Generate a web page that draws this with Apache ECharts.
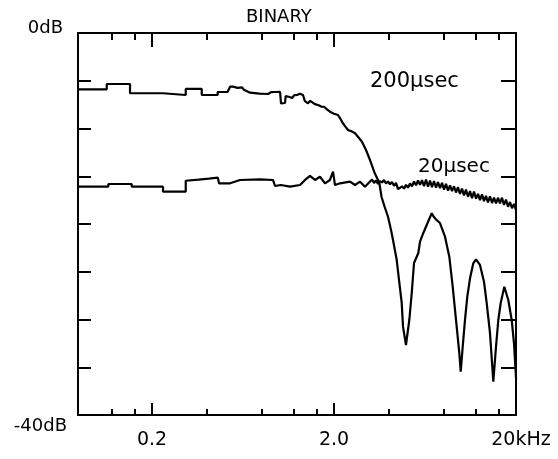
<!DOCTYPE html>
<html><head><meta charset="utf-8">
<script src="https://cdn.jsdelivr.net/npm/echarts@6/dist/echarts.min.js"></script>
<style>html,body{margin:0;padding:0;background:#fff}#c{width:558px;height:459px}</style>
</head><body><div id="c"></div>
<script>
// ---- data (frequency in kHz, level in dB) ----
const chartTitle = 'BINARY';
const freqMin = 0.0784, freqMax = 20;
const majorTicks = [0.2, 2, 20];
const majorTickLabels = ['0.2', '2.0', '20kHz'];
const minorTicks = [0.12, 0.16, 0.4, 0.8, 1.2, 1.6, 4, 8, 12, 16];
const dbMin = -40, dbMax = 0, dbStep = 5;
const dbTopLabel = '0dB', dbBottomLabel = '-40dB';
const seriesNames = ['200µsec', '20µsec'];

const freq200 = [0.0784,0.1128,0.1128,0.1514,0.1514,0.2298,0.2298,0.3064,0.3064,0.3752,0.3752,0.459,0.459,0.52,0.537,0.557,0.59,0.625,0.64,0.691,0.78,0.868,0.90,0.948,1.01,1.023,1.076,1.085,1.104,1.14,1.176,1.21,1.252,1.30,1.351,1.38,1.439,1.48,1.514,1.57,1.634,1.70,1.763,1.83,1.901,2.0,2.104,2.17,2.242,2.31,2.388,2.50,2.61,2.73,2.85,2.998,3.154,3.346,3.55,3.65,3.798,3.96,4.114,4.22,4.422,4.552,4.71,4.788,4.972,5.186,5.346,5.504,5.812,5.938,6.192,6.462,6.884,7.10,7.334,7.646,8.146,8.602,8.98,9.362,9.762,9.938,10.19,10.49,10.80,11.18,11.65,12.06,12.68,13.34,13.80,14.39,15.01,15.53,15.99,16.48,17.25,18.14,18.94,19.50,20];
const db200 = [-5.9,-5.9,-5.34,-5.34,-6.31,-6.31,-6.49,-6.49,-5.86,-5.86,-6.49,-6.49,-6.18,-6.18,-5.62,-5.62,-5.75,-5.69,-5.95,-6.25,-6.35,-6.39,-6.2,-6.18,-6.15,-7.36,-7.33,-6.6,-6.49,-6.7,-6.81,-6.5,-6.49,-6.35,-6.49,-7.1,-7.36,-7.1,-7.30,-7.45,-7.54,-7.7,-7.72,-8.0,-8.24,-8.45,-8.59,-9.0,-9.46,-9.8,-10.16,-10.3,-10.5,-10.95,-11.38,-12.25,-13.3,-14.66,-15.71,-17.17,-18.22,-19.24,-20.63,-21.68,-23.77,-25.86,-28.27,-30.75,-32.67,-30.05,-27.23,-24.08,-23.04,-21.85,-20.94,-20.10,-18.88,-19.3,-19.6,-19.9,-21.33,-23.42,-26.57,-30.05,-33.51,-35.47,-32.85,-30.05,-27.61,-25.69,-24.12,-23.70,-24.29,-26.04,-28.27,-31.41,-36.51,-32.85,-30.05,-28.27,-26.57,-27.96,-30.05,-32.49,-36.13];

const freq20 = [0.0784,0.1151,0.1151,0.1547,0.1547,0.2298,0.2298,0.3064,0.3064,0.36,0.41,0.46,0.4668,0.537,0.609,0.784,0.924,0.948,1.02,1.146,1.301,1.386,1.476,1.573,1.675,1.785,1.90,1.975,2.025,2.158,2.448,2.61,2.78,2.96,
 3.154,3.235,3.318,3.403,3.490,3.579,3.671,3.765,3.862,3.961,4.062,4.166,4.273,4.383,4.495,4.610,4.728,4.850,4.974,5.101,5.232,5.366,5.504,5.645,5.789,5.938,6.090,6.246,6.406,6.570,6.738,6.911,7.088,7.269,7.456,7.647,7.843,8.043,8.249,8.461,8.678,8.900,9.128,9.362,9.601,9.847,10.10,10.36,10.62,10.90,11.18,11.46,11.76,12.06,12.37,12.68,13.01,13.34,13.68,14.03,14.39,14.76,15.14,15.53,15.92,16.33,16.75,17.18,17.62,18.07,18.54,19.01,19.50,20.00];
const db20 = [-16.09,-16.09,-15.81,-15.81,-16.09,-16.09,-16.62,-16.62,-15.47,-15.35,-15.25,-15.15,-15.74,-15.74,-15.39,-15.32,-15.39,-16.02,-15.92,-16.09,-15.92,-15.39,-14.97,-15.39,-15.05,-15.74,-15.39,-14.52,-15.92,-15.74,-15.57,-15.92,-15.57,-16.09,
 -15.55,-15.35,-15.70,-15.45,-15.80,-15.50,-15.65,-15.40,-15.75,-15.55,
 -15.85,-15.60,-16.00,-15.70,-16.35,-16.45,-16.05,-16.30,-15.90,-16.20,
 -15.75,-16.05,-15.55,-15.95,-15.45,-15.90,-15.40,-16.05,-15.35,-16.10,
 -15.45,-16.15,-15.50,-16.20,-15.60,-16.25,-15.70,-16.40,-15.80,-16.50,
 -15.95,-16.55,-16.05,-16.70,-16.15,-16.85,-16.30,-17.00,-16.40,-17.15,
 -16.55,-17.30,-16.60,-17.35,-16.85,-17.50,-16.90,-17.60,-17.05,-17.75,
 -17.10,-17.80,-17.25,-17.85,-17.25,-17.85,-17.25,-18.00,-17.45,-18.20,
 -17.70,-18.35,-17.90,-18.55];

// annotation anchors (kHz, dB)
const anchor200 = [3.154, -5.13];
const anchor20 = [5.79, -14.03];

// ---- chart ----
const lx = v => Math.log10(v);
const FONT = 'DejaVu Sans';
const BLACK = '#000';

function xAxisDef(position, ticks, len, showLine, withLabels) {
  const ax = {
    type: 'value', position, min: lx(freqMin), max: lx(freqMax),
    splitLine: { show: false },
    axisLine: { show: showLine, onZero: false, lineStyle: { color: BLACK, width: 2 } },
    axisTick: { show: true, inside: true, length: len, customValues: ticks.map(lx), lineStyle: { color: BLACK, width: 2 } },
    axisLabel: { show: false }
  };
  if (withLabels) {
    ax.axisLabel = {
      show: true, customValues: majorTicks.map(lx), margin: 16,
      color: BLACK, fontFamily: FONT, fontSize: 19,
      formatter: v => {
        const i = majorTicks.findIndex(t => Math.abs(lx(t) - v) < 1e-6);
        const s = i >= 0 ? majorTickLabels[i] : '';
        return i === majorTicks.length - 1 ? '{k|' + s + '}' : s;
      },
      rich: { k: { padding: [0, 0, 0, 10], fontSize: 19, fontFamily: FONT, color: BLACK } }
    };
  }
  return ax;
}

function yAxisDef(position, len) {
  return {
    type: 'value', position, min: dbMin, max: dbMax, interval: dbStep,
    splitLine: { show: false },
    axisLine: { show: true, onZero: false, lineStyle: { color: BLACK, width: 2 } },
    axisTick: { show: true, inside: true, length: len, lineStyle: { color: BLACK, width: 2 } },
    axisLabel: { show: false }
  };
}
function yLabelAxis(value, text, margin, vAlign, lineH) {
  return {
    type: 'value', position: 'left', min: dbMin, max: dbMax,
    splitLine: { show: false }, axisLine: { show: false, onZero: false }, axisTick: { show: false },
    axisLabel: { show: true, customValues: [value], formatter: () => text, verticalAlign: vAlign,
      lineHeight: lineH, margin, color: BLACK, fontFamily: FONT, fontSize: 18 }
  };
}

function mark(name, anchor, size) {
  return {
    silent: true, symbol: 'circle', symbolSize: 0, animation: false,
    label: { show: true, position: 'right', distance: 0, formatter: name, color: BLACK, fontFamily: FONT, fontSize: size },
    data: [{ coord: [lx(anchor[0]), anchor[1]] }]
  };
}

const option = {
  animation: false,
  backgroundColor: '#fff',
  title: { text: chartTitle, left: 246, top: 8, padding: 0,
    textStyle: { fontSize: 18, fontWeight: 'normal', fontFamily: FONT, color: BLACK } },
  grid: { left: 78, right: 42, top: 33, bottom: 44, containLabel: false },
  xAxis: [
    xAxisDef('bottom', majorTicks.slice(0, 2), 12, true, true),
    xAxisDef('bottom', minorTicks, 6, false, false),
    xAxisDef('top', majorTicks.slice(0, 2), 14, true, false),
    xAxisDef('top', minorTicks, 7, false, false)
  ],
  yAxis: [
    yAxisDef('left', 13),
    yAxisDef('right', 15),
    yLabelAxis(dbMax, dbTopLabel, 15, 'bottom', 10),
    yLabelAxis(dbMin, dbBottomLabel, 11, 'top', 22)
  ],
  series: [
    { name: seriesNames[0], type: 'line', xAxisIndex: 0, yAxisIndex: 0, showSymbol: false, symbol: 'none',
      lineStyle: { color: BLACK, width: 2.2 }, data: freq200.map((f, i) => [lx(f), db200[i]]),
      markPoint: mark(seriesNames[0], anchor200, 21) },
    { name: seriesNames[1], type: 'line', xAxisIndex: 0, yAxisIndex: 0, showSymbol: false, symbol: 'none',
      lineStyle: { color: BLACK, width: 2.2 }, data: freq20.map((f, i) => [lx(f), db20[i]]),
      markPoint: mark(seriesNames[1], anchor20, 20) }
  ]
};
const chart = echarts.init(document.getElementById('c'), null, { renderer: 'canvas' });
chart.setOption(option);
</script>
</body></html>
